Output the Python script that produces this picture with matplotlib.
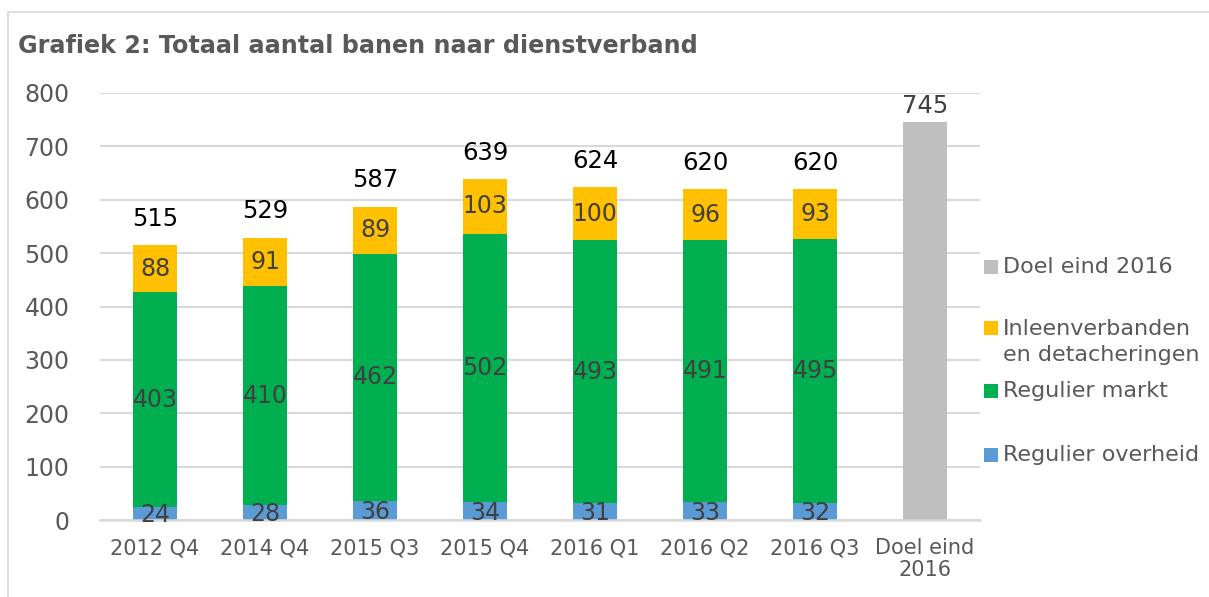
import matplotlib
matplotlib.use("Agg")
import matplotlib.pyplot as plt
from matplotlib.patches import Rectangle

categories = ["2012 Q4", "2014 Q4", "2015 Q3", "2015 Q4", "2016 Q1", "2016 Q2", "2016 Q3", "Doel eind\n2016"]
overheid = [24, 28, 36, 34, 31, 33, 32]
markt = [403, 410, 462, 502, 493, 491, 495]
inleen = [88, 91, 89, 103, 100, 96, 93]
totals = [515, 529, 587, 639, 624, 620, 620]
doel = 745

c_over = "#5B9BD5"
c_markt = "#00B050"
c_inleen = "#FFC000"
c_doel = "#BFBFBF"
txt = "#595959"

W, H = 1209, 597
fig = plt.figure(figsize=(W / 100, H / 100), dpi=100)
ax = fig.add_axes([100 / W, 1 - 520 / H, 880 / W, 427 / H])

x = list(range(len(categories)))
n = len(overheid)
bw = 0.4
ax.bar(x[:n], overheid, bw, color=c_over, zorder=3)
ax.bar(x[:n], markt, bw, bottom=overheid, color=c_markt, zorder=3)
bot2 = [a + b for a, b in zip(overheid, markt)]
ax.bar(x[:n], inleen, bw, bottom=bot2, color=c_inleen, zorder=3)
ax.bar([x[n]], [doel], bw, color=c_doel, zorder=3)

lab_kw = dict(ha="center", va="center", fontsize=17, color="#404040", zorder=6)
for i in range(n):
    ax.text(i, overheid[i] / 2 - 3, str(overheid[i]), **lab_kw)
    ax.text(i, overheid[i] + markt[i] / 2, str(markt[i]), **lab_kw)
    ax.text(i, bot2[i] + inleen[i] / 2, str(inleen[i]), **lab_kw)
    ax.annotate(str(totals[i]), (i, totals[i]), xytext=(0, 19), textcoords="offset points",
                ha="center", va="center", fontsize=17.5, color="black")
ax.annotate(str(doel), (x[n], doel), xytext=(0, 12), textcoords="offset points",
            ha="center", va="center", fontsize=17.5, color="#404040")

ax.set_xlim(-0.5, len(categories) - 0.5)
ax.set_ylim(0, 800)
ax.set_yticks(range(0, 801, 100))
ax.set_xticks(x)
ax.set_xticklabels(categories, fontsize=15, color=txt, linespacing=1.1)
ax.tick_params(axis="y", labelsize=17, labelcolor=txt, length=0, pad=22)
ax.tick_params(axis="x", length=0, pad=13)
ax.grid(axis="y", color="#D9D9D9", linewidth=1.5, zorder=0)
for s in ["top", "right", "left"]:
    ax.spines[s].set_visible(False)
ax.spines["bottom"].set_color("#D9D9D9")
ax.spines["bottom"].set_linewidth(1.8)
ax.spines["bottom"].set_zorder(5)

fig.text(18 / W, 1 - 46 / H, "Grafiek 2: Totaal aantal banen naar dienstverband",
         fontsize=17.2, fontweight="bold", color=txt, ha="left", va="center")

# frame
fig.patches.append(Rectangle((8 / W, -0.1), 1.1, 1 - 12 / H + 0.1, transform=fig.transFigure,
                             fill=False, edgecolor="#D9D9D9", linewidth=1.2))

# legend
legend_items = [
    (c_doel, "Doel eind 2016", 267),
    (c_inleen, "Inleenverbanden\nen detacheringen", 342),
    (c_markt, "Regulier markt", 391),
    (c_over, "Regulier overheid", 455),
]
for col, label, yy in legend_items:
    sq_y = 328 if "\n" in label else yy
    fig.patches.append(Rectangle((984 / W, 1 - (sq_y + 7) / H), 14 / W, 14 / H,
                                 transform=fig.transFigure, facecolor=col, edgecolor="none"))
    fig.text(1003 / W, 1 - yy / H, label, fontsize=16, color=txt, ha="left", va="center",
             linespacing=1.35)

fig.savefig("out.png", dpi=100)
